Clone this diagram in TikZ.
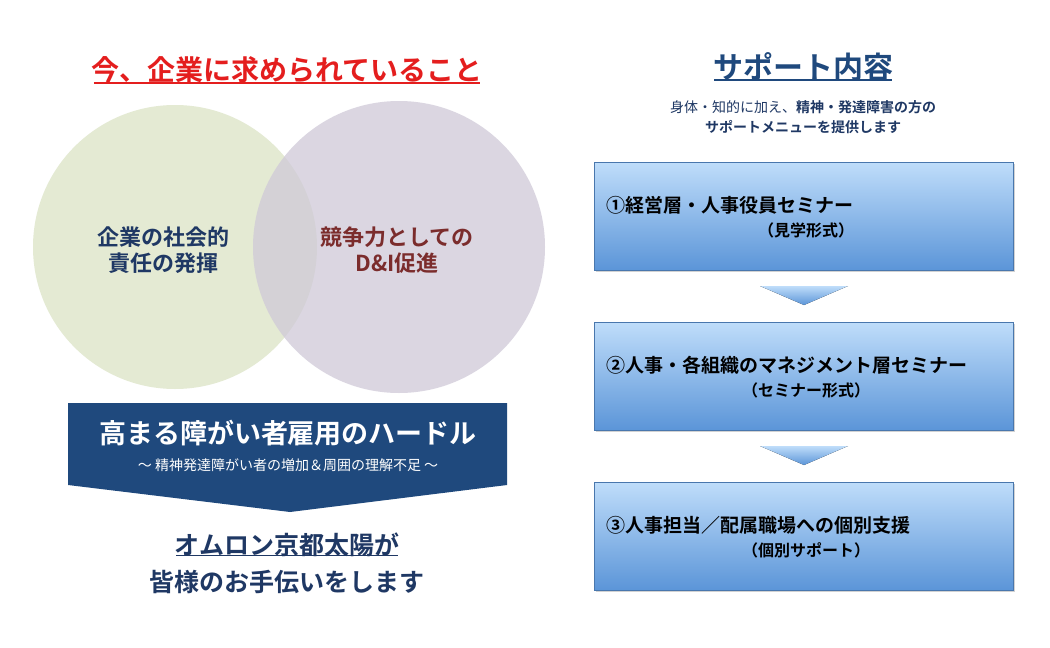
\documentclass[tikz,border=0pt]{standalone}
\usepackage{fontspec}
\setmainfont{Noto Sans CJK JP}[BoldFont={* Bold}]
\usetikzlibrary{shadows,calc}
\definecolor{navy}{HTML}{1F497D}
\definecolor{dnavy}{HTML}{1F3864}
\definecolor{dred}{HTML}{7B2C2C}
\definecolor{ttred}{HTML}{E41E1E}
\definecolor{boxtop}{HTML}{BFDDFA}
\definecolor{boxbot}{HTML}{5B95D8}
\definecolor{cgreen}{HTML}{E4EAD3}
\definecolor{clav}{HTML}{CFC9D8}
\tikzset{
 fs/.style={font=\fontsize{#1}{#1}\selectfont\bfseries},
 stepbox/.style={shade, top color=boxtop, bottom color=boxbot, draw=boxbot!80!black, line width=0.4pt, drop shadow={shadow xshift=1.5pt,shadow yshift=-2pt,opacity=0.35}},
 chev/.style={shade, top color=boxtop, bottom color=boxbot, draw=none},
}
\begin{document}
\begin{tikzpicture}[x=1pt,y=-1pt]
\useasboundingbox (0,0) rectangle (1050,648);
\fill[white] (0,0) rectangle (1050,648);
% left title
\node[fs=28,text=ttred] (t1) at (287,70) {今、企業に求められていること};
\draw[ttred,line width=2pt] ($(t1.south west)+(6,-4)$) -- ($(t1.south east)+(-6,-4)$);
% circles
\fill[cgreen] (175,247) circle (142);
\fill[clav,fill opacity=0.75] (399,247) circle (146);
\node[fs=22,text=dnavy,align=center] (c1) at (163,250) {企業の社会的\\[4pt]責任の発揮};
\node[fs=22,text=dred,align=center] (c2) at (397,250) {競争力としての\\[4pt]D\&I促進};
% banner
\fill[navy] (68,403) -- (507,403) -- (507,485) -- (290,512) -- (68,485) -- cycle;
\node[fs=27,text=white] (b1) at (288,433) {高まる障がい者雇用のハードル};
\node[font=\fontsize{14}{16}\selectfont,text=white] (b2) at (288,465) {〜 精神発達障がい者の増加＆周囲の理解不足 〜};
\node[fs=25,text=dnavy] (o1) at (287,545) {オムロン京都太陽が};
\draw[dnavy,line width=1.6pt] ($(o1.south west)+(5,-5)$) -- ($(o1.south east)+(-5,-5)$);
\node[fs=25,text=dnavy] (o2) at (287,582) {皆様のお手伝いをします};
% right title
\node[fs=30,text=navy] (t2) at (803,67) {サポート内容};
\draw[navy,line width=1.6pt] ($(t2.south west)+(5,-5)$) -- ($(t2.south east)+(-5,-5)$);
\node[font=\fontsize{14}{20}\selectfont,text=dnavy,align=center] (s1) at (803,117) {身体・知的に加え、\textbf{精神・発達障害の方の}\\\textbf{サポートメニューを提供します}};
% boxes
\foreach \i/\y/\a/\b in {1/162/①経営層・人事役員セミナー/（見学形式）,2/322/②人事・各組織のマネジメント層セミナー/（セミナー形式）,3/482/③人事担当／配属職場への個別支援/（個別サポート）}{
  \node[stepbox,minimum width=419,minimum height=108,anchor=north west] (box\i) at (594,\y) {};
  \node[fs=19,anchor=west] (l\i) at (603,\y+43) {\a};
  \node[fs=16] (m\i) at (806,\y+68) {\b};
}
\foreach \i/\y in {1/286,2/446}{
  \fill[chev] (760,\y) -- (848,\y) -- (804,\y+19) -- cycle;
}
\end{tikzpicture}
\end{document}
